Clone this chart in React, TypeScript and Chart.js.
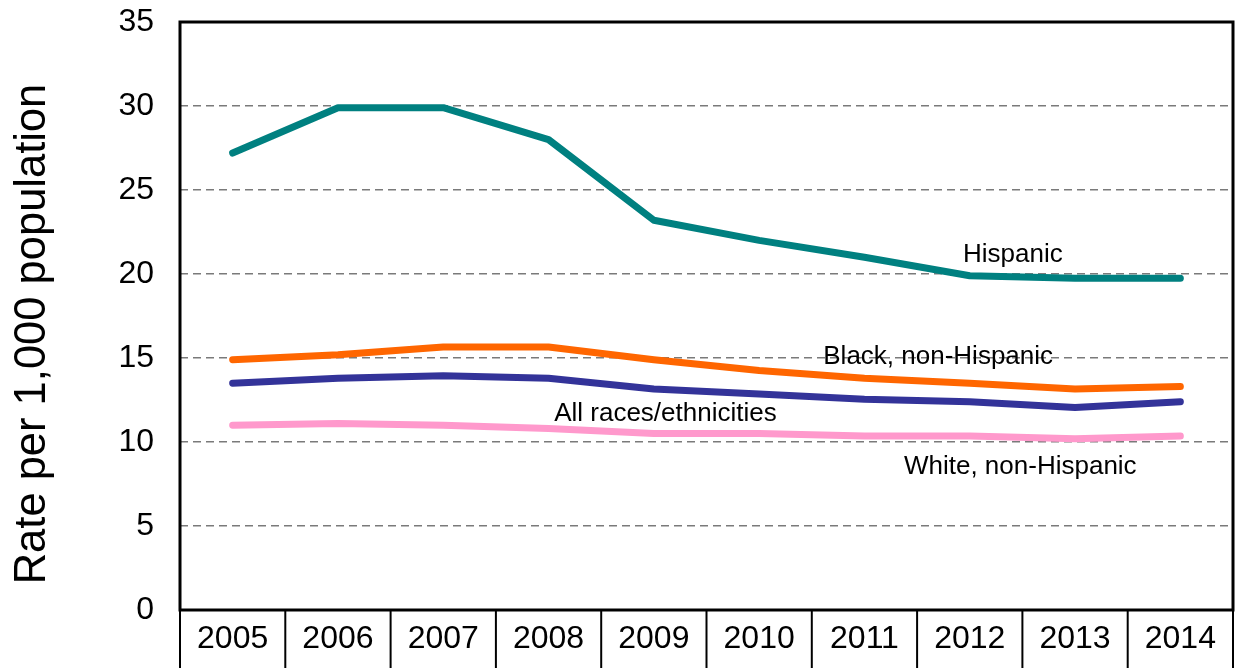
import React, { useEffect, useRef } from "react";
import { Chart, registerables } from "chart.js";

Chart.register(...registerables);

const years = ["2005", "2006", "2007", "2008", "2009", "2010", "2011", "2012", "2013", "2014"];
const hispanic = [27.2, 29.9, 29.9, 28.0, 23.2, 22.0, 21.0, 19.9, 19.75, 19.75];
const blackNonHispanic = [14.9, 15.2, 15.65, 15.65, 14.9, 14.25, 13.8, 13.5, 13.15, 13.3];
const allRaces = [13.5, 13.8, 13.95, 13.8, 13.15, 12.85, 12.55, 12.4, 12.05, 12.4];
const whiteNonHispanic = [11.0, 11.1, 11.0, 10.8, 10.5, 10.5, 10.35, 10.35, 10.2, 10.35];
const yTicks = [0, 5, 10, 15, 20, 25, 30, 35];
const yTitle = "Rate per 1,000 population";

const annotations = [
  { text: "Hispanic", x: 7.41, y: 21.13 },
  { text: "Black, non-Hispanic", x: 6.7, y: 15.06 },
  { text: "All races/ethnicities", x: 4.11, y: 11.67 },
  { text: "White, non-Hispanic", x: 7.48, y: 8.51 },
];

const FONT = "'Liberation Sans', Arial, sans-serif";

export default function App() {
  const ref = useRef<HTMLCanvasElement | null>(null);

  useEffect(() => {
    if (!ref.current) return;
    const framePlugin = {
      id: "frame",
      beforeDatasetsDraw(chart: any) {
        const { ctx, chartArea } = chart;
        ctx.save();
        ctx.strokeStyle = "#000";
        ctx.lineWidth = 3;
        ctx.strokeRect(chartArea.left, chartArea.top, chartArea.right - chartArea.left, chartArea.bottom - chartArea.top);
        ctx.lineWidth = 2;
        const n = years.length;
        const w = (chartArea.right - chartArea.left) / n;
        for (let i = 0; i <= n; i++) {
          const x = chartArea.left + i * w;
          ctx.beginPath();
          ctx.moveTo(x, chartArea.bottom);
          ctx.lineTo(x, chart.height);
          ctx.stroke();
        }
        // y axis title
        ctx.fillStyle = "#000";
        ctx.font = `43.5px ${FONT}`;
        ctx.translate(45, 334);
        ctx.rotate(-Math.PI / 2);
        ctx.textAlign = "center";
        ctx.textBaseline = "alphabetic";
        ctx.fillText(yTitle, 0, 0);
        ctx.restore();
      },
      afterDatasetsDraw(chart: any) {
        const { ctx } = chart;
        const xs = chart.scales.x;
        const ys = chart.scales.y;
        ctx.save();
        ctx.font = `26px ${FONT}`;
        ctx.fillStyle = "#000";
        ctx.textAlign = "center";
        ctx.textBaseline = "middle";
        for (const a of annotations) {
          ctx.fillText(a.text, xs.getPixelForValue(a.x), ys.getPixelForValue(a.y));
        }
        ctx.restore();
      },
    };

    const mk = (label: string, data: number[], color: string) => ({
      label,
      data,
      borderColor: color,
      backgroundColor: color,
      borderWidth: 7,
      pointRadius: 0,
      tension: 0,
      borderCapStyle: "round",
      borderJoinStyle: "round",
      fill: false,
    });

    const chart = new Chart(ref.current, {
      type: "line",
      data: {
        labels: years,
        datasets: [
          mk("Hispanic", hispanic, "#008080"),
          mk("Black, non-Hispanic", blackNonHispanic, "#FF6600"),
          mk("All races/ethnicities", allRaces, "#333399"),
          mk("White, non-Hispanic", whiteNonHispanic, "#FF99CC"),
        ] as any,
      },
      options: {
        animation: false,
        responsive: false,
        maintainAspectRatio: false,
        layout: { padding: { top: 22, right: 3, bottom: 0, left: 0 } },
        plugins: { legend: { display: false }, tooltip: { enabled: false } },
        scales: {
          x: {
            type: "category",
            offset: true,
            grid: { display: false, drawTicks: false },
            border: { display: false },
            ticks: { font: { family: FONT, size: 32 }, color: "#000", padding: 10, maxRotation: 0 },
            afterFit: (s: any) => {
              s.height = 58;
              s.paddingLeft = 0;
              s.paddingRight = 0;
            },
          },
          y: {
            min: 0,
            max: 35,
            afterBuildTicks: (s: any) => {
              s.ticks = yTicks.map((v) => ({ value: v }));
            },
            grid: {
              drawTicks: false,
              color: (c: any) => (c.tick && (c.tick.value === 0 || c.tick.value === 35) ? "rgba(0,0,0,0)" : "#7a7a7a"),
              lineWidth: 1.5,
            },
            border: { display: false, dash: [8, 5] },
            ticks: { font: { family: FONT, size: 32 }, color: "#000", padding: 26 },
            title: { display: false },
            afterFit: (s: any) => {
              s.width = 180;
              s.paddingTop = 0;
              s.paddingBottom = 0;
            },
          },
        },
      },
      plugins: [framePlugin],
    });
    return () => chart.destroy();
  }, []);

  return (
    <div style={{ position: "absolute", left: 0, top: 0, width: 1236, height: 668, background: "#fff" }}>
      <canvas ref={ref} width={1236} height={668} style={{ display: "block" }} />
    </div>
  );
}
